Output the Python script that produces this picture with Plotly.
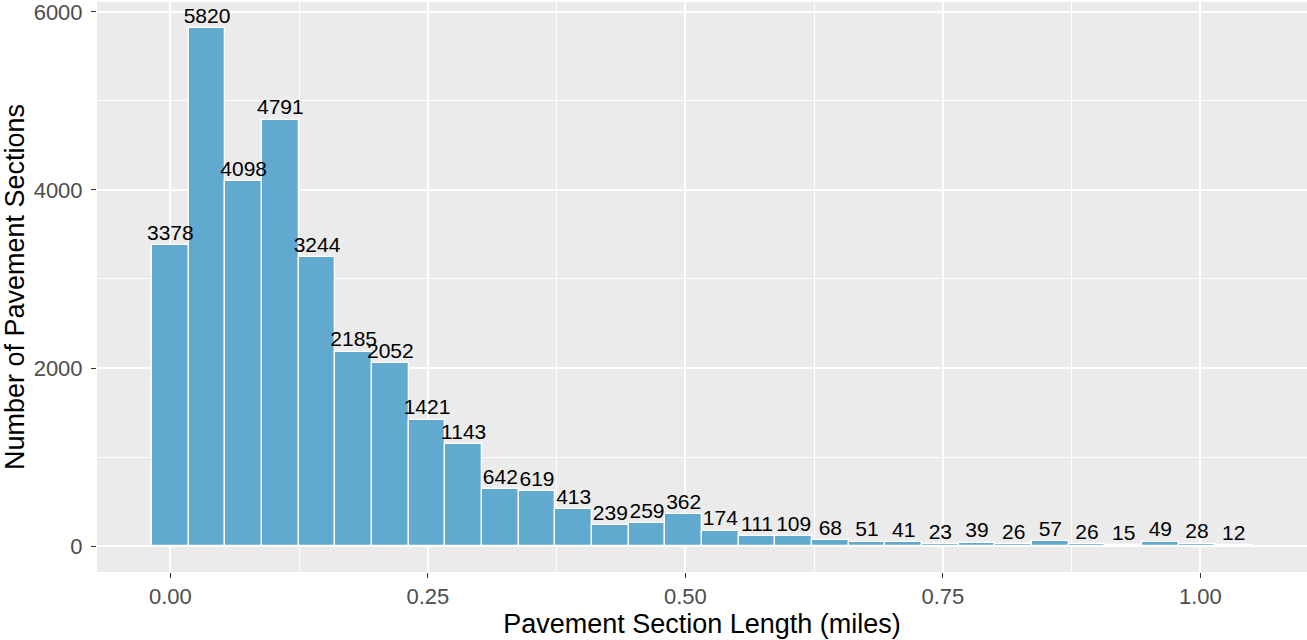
import plotly.graph_objects as go

# Histogram of pavement section lengths (30 bins, counts per bin)
bin_width = 0.0356
bin_counts = [3378, 5820, 4098, 4791, 3244, 2185, 2052, 1421, 1143, 642,
              619, 413, 239, 259, 362, 174, 111, 109, 68, 51,
              41, 23, 39, 26, 57, 26, 15, 49, 28, 12]
bin_centers = [i * bin_width for i in range(len(bin_counts))]

x_ticks = [0.0, 0.25, 0.5, 0.75, 1.0]
x_tick_text = ["0.00", "0.25", "0.50", "0.75", "1.00"]
y_ticks = [0, 2000, 4000, 6000]

FONT = "Liberation Sans, Arial, Helvetica, sans-serif"
BAR_COLOR = "#62a9d0"

# ggplot-style 5% expansion on both axes
x_lo = bin_centers[0] - bin_width / 2
x_hi = bin_centers[-1] + bin_width / 2
x_pad = (x_hi - x_lo) * 0.05
y_hi = max(bin_counts)
y_pad = y_hi * 0.05

fig = go.Figure()
fig.add_trace(
    go.Bar(
        x=bin_centers,
        y=bin_counts,
        width=bin_width,
        marker=dict(color=BAR_COLOR, line=dict(color="white", width=1.3)),
        hoverinfo="x+y",
    )
)
# count labels on top of every bar, drawn above all bars
fig.add_trace(
    go.Scatter(
        x=bin_centers,
        y=bin_counts,
        mode="text",
        text=[str(c) for c in bin_counts],
        textposition="top center",
        textfont=dict(family=FONT, size=21, color="black"),
        cliponaxis=False,
        hoverinfo="skip",
    )
)

fig.update_layout(
    width=1307,
    height=640,
    margin=dict(l=97, r=0, t=0, b=68),
    paper_bgcolor="white",
    plot_bgcolor="#ebebeb",
    showlegend=False,
    font=dict(family=FONT),
    bargap=0,
)

fig.update_xaxes(
    range=[x_lo - x_pad, x_hi + x_pad],
    tickmode="array",
    tickvals=x_ticks,
    ticktext=x_tick_text,
    ticks="outside",
    ticklen=5,
    tickwidth=1.2,
    tickcolor="#333333",
    tickfont=dict(family=FONT, size=22, color="#4d4d4d"),
    showgrid=True,
    gridcolor="white",
    gridwidth=1.6,
    zeroline=False,
    showline=False,
    minor=dict(tickmode="array", tickvals=[0.125, 0.375, 0.625, 0.875],
               showgrid=True, gridcolor="white", gridwidth=0.8, ticks=""),
    title=dict(text="Pavement Section Length (miles)",
               font=dict(family=FONT, size=27, color="black"), standoff=4),
)

fig.update_yaxes(
    range=[-y_pad, y_hi + y_pad],
    tickmode="array",
    tickvals=y_ticks,
    ticks="outside",
    ticklen=5,
    tickwidth=1.2,
    tickcolor="#333333",
    tickfont=dict(family=FONT, size=22, color="#4d4d4d"),
    ticklabelstandoff=4,
    ticklabeloverflow="allow",
    showgrid=True,
    gridcolor="white",
    gridwidth=1.6,
    zeroline=False,
    showline=False,
    minor=dict(tickmode="array", tickvals=[1000, 3000, 5000],
               showgrid=True, gridcolor="white", gridwidth=0.8, ticks=""),
    title=dict(text="Number of Pavement Sections",
               font=dict(family=FONT, size=27, color="black"), standoff=6),
)

fig.write_html("out.html")
